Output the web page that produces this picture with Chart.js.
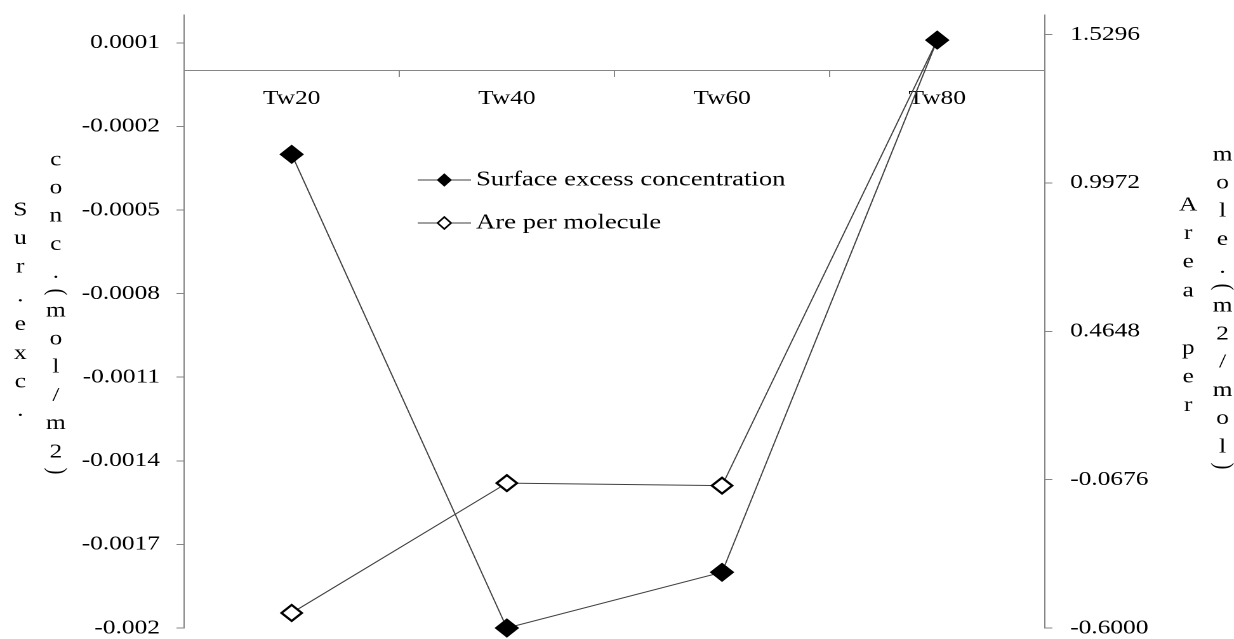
<!DOCTYPE html>
<html>
<head>
<meta charset="utf-8">
<title>Surface excess concentration</title>
<script src="https://cdn.jsdelivr.net/npm/chart.js"></script>
<style>
    html, body { margin: 0; padding: 0; background: #fff; overflow: hidden; }
    /* El original está estirado en horizontal */
    #contenedor { width: 972px; height: 639px; transform: scaleX(1.2695); transform-origin: 0 0; }
</style>
</head>
<body>
<div id="contenedor"><canvas id="grafico" width="972" height="639"></canvas></div>
<script>
// Datos del gráfico
const categorias = ['Tw20', 'Tw40', 'Tw60', 'Tw80'];
const excesoSuperficial = [-0.0003, -0.002, -0.0018, 0.00011];
const areaPorMolecula = [-0.546, -0.080, -0.089, 1.51];
const nombresSeries = ['Surface excess concentration', 'Are per molecule'];

// Etiquetas de los ejes
const ticksIzq = ['-0.002', '-0.0017', '-0.0014', '-0.0011', '-0.0008', '-0.0005', '-0.0002', '0.0001'];
const ticksDer = ['-0.6000', '-0.0676', '0.4648', '0.9972', '1.5296'];

// Títulos de los ejes (cada texto es una columna de letras)
const tituloIzq = ['Sur.exc.', 'conc.(mol/m2)'];
const tituloDer = ['Area per', 'mole.(m2/mol)'];

const fuente = '"Liberation Serif", "Times New Roman", serif';
const gris = '#868686';

Chart.defaults.color = '#000';
Chart.defaults.font.family = fuente;
Chart.defaults.font.size = 20;

// Dibuja un texto letra por letra hacia abajo
function dibujarColumna(ctx, texto, x, y, paso) {
    let anterior = null;
    for (const letra of texto) {
        const esParentesis = letra === '(' || letra === ')';
        const alto = esParentesis ? 10 : paso;
        if (anterior !== null) {
            y += anterior / 2 + alto / 2;
        }
        if (esParentesis) {
            ctx.save();
            ctx.translate(x, y);
            ctx.rotate(Math.PI / 2);
            ctx.fillText(letra, 0, 0);
            ctx.restore();
        } else {
            ctx.fillText(letra, x, y);
        }
        anterior = alto;
    }
}

// Sin márgenes extra de las etiquetas: el área la fija layout.padding
function sinMargenes(scale) {
    scale.paddingTop = 0;
    scale.paddingBottom = 0;
    scale.paddingLeft = 0;
    scale.paddingRight = 0;
}

// Plugin para los títulos verticales
const titulosEjes = {
    id: 'titulosEjes',
    afterDraw(chart) {
        const ctx = chart.ctx;
        ctx.save();
        ctx.fillStyle = '#000';
        ctx.font = '20px ' + fuente;
        ctx.textAlign = 'center';
        ctx.textBaseline = 'middle';
        dibujarColumna(ctx, tituloIzq[0], 16, 210, 28.7);
        dibujarColumna(ctx, tituloIzq[1], 44, 160, 28.2);
        dibujarColumna(ctx, tituloDer[0], 936, 205, 28.7);
        dibujarColumna(ctx, tituloDer[1], 963, 155, 28.2);
        ctx.restore();
    }
};

// Plugin para la leyenda (línea con marcador, como en Excel)
const leyenda = {
    id: 'leyenda',
    afterDatasetsDraw(chart) {
        const ctx = chart.ctx;
        chart.data.datasets.forEach((ds, i) => {
            const y = 180 + i * 43;
            const xm = 350;
            ctx.save();
            ctx.strokeStyle = ds.borderColor;
            ctx.lineWidth = 1;
            ctx.beginPath();
            ctx.moveTo(329, y);
            ctx.lineTo(371, y);
            ctx.stroke();

            ctx.beginPath();
            ctx.moveTo(xm - 5.3, y);
            ctx.lineTo(xm, y - 6);
            ctx.lineTo(xm + 5.3, y);
            ctx.lineTo(xm, y + 6);
            ctx.closePath();
            ctx.fillStyle = ds.pointBackgroundColor;
            ctx.fill();
            ctx.lineWidth = i === 0 ? 1 : 1.5;
            ctx.strokeStyle = ds.pointBorderColor;
            ctx.stroke();

            ctx.fillStyle = '#000';
            ctx.font = '21px ' + fuente;
            ctx.textAlign = 'left';
            ctx.textBaseline = 'middle';
            ctx.fillText(ds.label, 375, y);
            ctx.restore();
        });
    }
};

const ctx = document.getElementById('grafico').getContext('2d');

const grafico = new Chart(ctx, {
    type: 'line',
    data: {
        labels: categorias,
        datasets: [
            {
                label: nombresSeries[0],
                data: excesoSuperficial,
                yAxisID: 'y',
                borderColor: '#404040',
                borderWidth: 1,
                pointStyle: 'rectRot',
                pointRadius: 9,
                pointHoverRadius: 9,
                pointBackgroundColor: '#000',
                pointBorderColor: '#000',
                pointBorderWidth: 1,
                tension: 0,
                clip: false,
            },
            {
                label: nombresSeries[1],
                data: areaPorMolecula,
                yAxisID: 'y1',
                borderColor: '#404040',
                borderWidth: 1,
                pointStyle: 'rectRot',
                pointRadius: 8,
                pointHoverRadius: 8,
                pointBackgroundColor: '#fff',
                pointBorderColor: '#000',
                pointBorderWidth: 2,
                tension: 0,
                clip: false,
            },
        ],
    },
    options: {
        responsive: false,
        animation: false,
        devicePixelRatio: 2,
        layout: {
            padding: { left: 0, right: 0, top: 15, bottom: 11 },
        },
        plugins: {
            legend: { display: false },
            tooltip: { enabled: false },
        },
        scales: {
            x: {
                type: 'category',
                offset: true,
                position: { y: 0 },
                border: { color: gris, width: 1 },
                grid: {
                    offset: true,
                    drawOnChartArea: false,
                    color: gris,
                    tickLength: 6,
                },
                afterFit: sinMargenes,
                ticks: { padding: 10, maxRotation: 0, color: '#000' },
            },
            y: {
                position: 'left',
                min: -0.002,
                max: 0.0002,
                border: { color: gris, width: 1 },
                grid: { drawOnChartArea: false, color: gris, tickLength: 6 },
                afterBuildTicks: scale => {
                    scale.ticks = ticksIzq.map(t => ({ value: parseFloat(t) }));
                },
                afterFit: scale => {
                    sinMargenes(scale);
                    scale.width = 145;
                },
                ticks: {
                    padding: 13,
                    autoSkip: false,
                    callback: (valor, i) => ticksIzq[i],
                },
            },
            y1: {
                position: 'right',
                min: -0.6,
                max: 1.6,
                border: { color: gris, width: 1 },
                grid: { drawOnChartArea: false, color: gris, tickLength: 6 },
                afterBuildTicks: scale => {
                    scale.ticks = ticksDer.map(t => ({ value: parseFloat(t) }));
                },
                afterFit: scale => {
                    sinMargenes(scale);
                    scale.width = 149;
                },
                ticks: {
                    padding: 14,
                    autoSkip: false,
                    callback: (valor, i) => ticksDer[i],
                },
            },
        },
    },
    plugins: [titulosEjes, leyenda],
});
</script>
</body>
</html>
